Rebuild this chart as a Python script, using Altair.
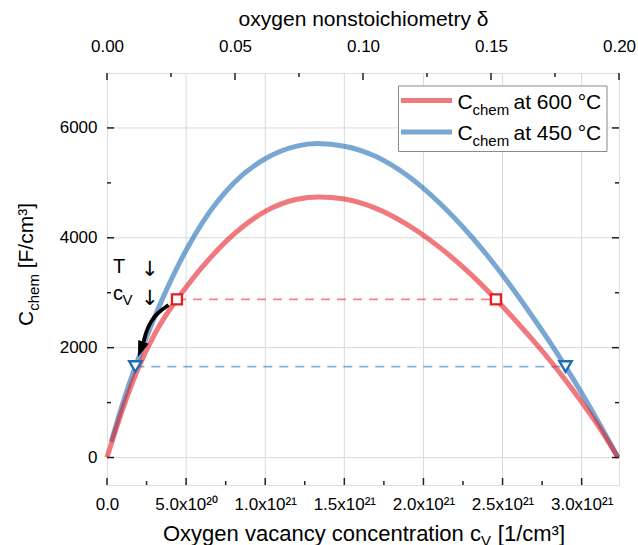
import altair as alt
import pandas as pd

# ---------------- data ----------------
cv_600 = [0, 1e20, 2e20, 3e20, 4.42e20, 5e20, 6e20, 8e20, 10e20, 12e20, 13.4e20, 15e20, 17e20,
          19e20, 21e20, 23e20, 24.58e20, 26e20, 27e20, 28e20, 29e20, 30e20, 31e20, 32.3e20]
c_600 = [0, 890, 1645, 2240, 2880, 3101, 3461, 4061, 4481, 4701, 4745, 4705, 4535,
         4235, 3830, 3335, 2880, 2436, 2109, 1766, 1400, 1010, 600, 0]

cv_450 = [0.27e20, 1e20, 1.79e20, 3e20, 4.42e20, 5e20, 6e20, 8e20, 10e20, 12e20, 13.3e20, 15e20,
          17e20, 19e20, 21e20, 23e20, 25e20, 26.5e20, 28e20, 28.98e20, 30e20, 31e20, 32.3e20]
c_450 = [290, 990, 1655, 2550, 3452, 3774, 4264, 4994, 5439, 5669, 5715, 5668,
         5478, 5128, 4638, 4033, 3323, 2727, 2095, 1655, 1173, 676, 0]

square_cv = [4.42e20, 24.58e20]
square_c = [2880, 2880]
tri_cv = [1.79e20, 28.98e20]
tri_c = [1655, 1655]

arrow_cv = [3.89e20, 3.24e20, 2.73e20, 2.45e20, 2.31e20]
arrow_c = [2776, 2649, 2467, 2267, 2103]
arrow_head_cv = [2.15e20]
arrow_head_c = [1983]

x_major = [0, 5e20, 1e21, 1.5e21, 2e21, 2.5e21, 3e21]
x_labels = ["0.0", "5.0x10²⁰", "1.0x10²¹", "1.5x10²¹", "2.0x10²¹", "2.5x10²¹", "3.0x10²¹"]
x_minor = [2.5e20, 7.5e20, 1.25e21, 1.75e21, 2.25e21, 2.75e21]
y_major = [0, 2000, 4000, 6000]
y_minor = [1000, 3000, 5000]
d_major = [0.0, 0.05, 0.10, 0.15, 0.20]
d_minor = [0.025, 0.075, 0.125, 0.175]

legend_labels = ["at 600 °C", "at 450 °C"]

# ---------------- styling ----------------
W, H = 512, 412
X_MAX = 3.236e21
FONT = "Liberation Sans"
RED = "#e41f26"
BLUE = "#1f6db5"
FRAME = "#222222"
GRID = "#dadada"

xs = alt.Scale(domain=[0, X_MAX], nice=False, zero=False)
ys = alt.Scale(domain=[-500, 7000], nice=False, zero=False)

label_expr = ("[" + ",".join("'%s'" % l for l in x_labels) + "][indexof(["
              + ",".join(repr(float(v)) for v in x_major) + "], datum.value)]")

X_AX = alt.Axis(values=x_major, labelExpr=label_expr, title=None, grid=False, ticks=False,
                tickSize=0, domain=False, labelFontSize=17, labelFont=FONT, labelColor="black",
                labelPadding=11, labelFlush=False, labelOverlap=False, labelBound=False)
Y_AX = alt.Axis(values=y_major, format="d", title=None, grid=False, ticks=False, tickSize=0,
                domain=False, labelFontSize=17, labelFont=FONT, labelColor="black",
                labelPadding=10, labelFlush=False, labelOverlap=False)
TOP_AX = alt.Axis(orient="top", values=d_major, format=".2f", title="oxygen nonstoichiometry δ",
                  titleFontSize=21, titleFont=FONT, titleFontWeight="normal", titleColor="black",
                  titlePadding=8, grid=False, ticks=False, tickSize=0, domain=False,
                  labelFontSize=17, labelFont=FONT, labelColor="black", labelPadding=18,
                  labelFlush=False, labelOverlap=False)


def X(field):
    return alt.X(field + ":Q", scale=xs, axis=X_AX)


def Y(field):
    return alt.Y(field + ":Q", scale=ys, axis=Y_AX)


one = pd.DataFrame({"k": [0]})

# grid
grid_v = alt.Chart(pd.DataFrame({"g": x_major[1:]})).mark_rule(color=GRID, strokeWidth=1).encode(x=X("g"))
grid_h = alt.Chart(pd.DataFrame({"g": y_major})).mark_rule(color=GRID, strokeWidth=1).encode(y=Y("g"))

# dashed guide lines
dash_red = alt.Chart(pd.DataFrame({"a": [square_cv[0]], "b": [square_cv[1]], "c": [square_c[0]]})).mark_rule(
    color=RED, opacity=0.55, strokeWidth=1.6, strokeDash=[9, 7]).encode(x=X("a"), x2="b", y=Y("c"))
dash_blue = alt.Chart(pd.DataFrame({"a": [tri_cv[0]], "b": [tri_cv[1]], "c": [tri_c[0]]})).mark_rule(
    color=BLUE, opacity=0.55, strokeWidth=1.6, strokeDash=[9, 7]).encode(x=X("a"), x2="b", y=Y("c"))

# curves
line_blue = alt.Chart(pd.DataFrame({"cv": cv_450, "C": c_450})).mark_line(
    color=BLUE, opacity=0.6, strokeWidth=5, interpolate="monotone").encode(x=X("cv"), y=Y("C"))
line_red = alt.Chart(pd.DataFrame({"cv": cv_600, "C": c_600})).mark_line(
    color=RED, opacity=0.6, strokeWidth=5, interpolate="monotone").encode(x=X("cv"), y=Y("C"))

# markers
squares = alt.Chart(pd.DataFrame({"cv": square_cv, "C": square_c})).mark_point(
    shape="square", size=100, fill="white", fillOpacity=1, filled=True, stroke=RED, strokeWidth=2.3, opacity=1
).encode(x=X("cv"), y=Y("C"))
triangles = alt.Chart(pd.DataFrame({"cv": tri_cv, "C": tri_c})).mark_point(
    shape="triangle-down", size=150, fill="white", fillOpacity=1, filled=True, stroke=BLUE, strokeWidth=2.4,
    opacity=1).encode(x=X("cv"), y=Y("C"))

# curved arrow
arrow = alt.Chart(pd.DataFrame({"cv": arrow_cv, "C": arrow_c, "o": list(range(len(arrow_cv)))})).mark_line(
    color="black", strokeWidth=3.8, interpolate="basis").encode(x=X("cv"), y=Y("C"), order="o:Q")
arrow_head = alt.Chart(pd.DataFrame({"cv": arrow_head_cv, "C": arrow_head_c})).mark_point(
    shape="M0,-1L0.62,0.8L-0.62,0.8Z", size=320, filled=True, color="black", opacity=1, angle=200
).encode(x=X("cv"), y=Y("C"))


# inward ticks
def hticks(vals, y0, y1):
    return alt.Chart(pd.DataFrame({"t": vals})).mark_rule(color=FRAME, strokeWidth=1.5).encode(
        x=X("t"), y=alt.value(y0), y2=alt.value(y1))


def vticks(vals, x0, x1):
    return alt.Chart(pd.DataFrame({"t": vals})).mark_rule(color=FRAME, strokeWidth=1.5).encode(
        y=Y("t"), x=alt.value(x0), x2=alt.value(x1))


tick_layers = [
    hticks(x_major, H, H - 7), hticks(x_minor, H, H - 4),
    vticks(y_major, 0, 7), vticks(y_minor, 0, 4),
    vticks(y_major, W, W - 7), vticks(y_minor, W, W - 4),
]


def txt(s, px, py, size, angle=0, align="left", color="black", font=FONT):
    return alt.Chart(one).mark_text(text=s, font=font, fontSize=size, color=color, align=align,
                                    baseline="alphabetic", angle=angle).encode(
        x=alt.value(px), y=alt.value(py))


# legend
legend_box = alt.Chart(one).mark_rect(fill="white", stroke="#8a8a8a", strokeWidth=1).encode(
    x=alt.value(291.5), x2=alt.value(500), y=alt.value(13), y2=alt.value(78.5))
leg_lines = [
    alt.Chart(one).mark_rule(color=RED, opacity=0.6, strokeWidth=5).encode(
        x=alt.value(294), x2=alt.value(345), y=alt.value(27.5)),
    alt.Chart(one).mark_rule(color=BLUE, opacity=0.6, strokeWidth=5).encode(
        x=alt.value(294), x2=alt.value(345), y=alt.value(59)),
]
leg_text = [
    txt("C", 350.5, 36.3, 21), txt("chem", 365.5, 41.6, 15), txt(legend_labels[0], 406.5, 36.3, 21),
    txt("C", 350.5, 67.3, 21), txt("chem", 365.5, 72.6, 15), txt(legend_labels[1], 406.5, 67.3, 21),
]

# axis titles with subscripts
y_title = [
    txt("C", -74, 253, 21, angle=270),
    txt("chem", -68.5, 237.8, 15, angle=270),
    txt("[F/cm³]", -74, 195.3, 21, angle=270),
]
x_title = [
    txt("Oxygen vacancy concentration c", 56, 467.5, 22),
    txt("V", 374, 472.5, 15),
    txt("[1/cm³]", 390.8, 467.5, 22),
]

# T / c_V annotation
annot = [
    txt("T", 6, 200.3, 20), txt("↓", 34, 203, 21, font="DejaVu Sans"),
    txt("c", 6, 227.3, 20), txt("V", 15.5, 232.3, 15), txt("↓", 34, 232, 21, font="DejaVu Sans"),
]

main = alt.layer(
    grid_v, grid_h, dash_red, dash_blue, line_blue, line_red, squares, triangles,
    arrow, arrow_head, *tick_layers, legend_box, *leg_lines, *leg_text, *y_title, *x_title, *annot
)

ds = alt.Scale(domain=[0, 0.2], nice=False, zero=False)
top_major = alt.Chart(pd.DataFrame({"d": d_major})).mark_rule(color=FRAME, strokeWidth=1.5).encode(
    x=alt.X("d:Q", scale=ds, axis=TOP_AX), y=alt.value(0), y2=alt.value(7))
top_minor = alt.Chart(pd.DataFrame({"d": d_minor})).mark_rule(color=FRAME, strokeWidth=1.5).encode(
    x=alt.X("d:Q", scale=ds, axis=TOP_AX), y=alt.value(0), y2=alt.value(4))
top = alt.layer(top_major, top_minor)

chart = alt.layer(main, top).resolve_scale(x="independent").properties(
    width=W, height=H,
    padding={"left": 107, "top": 73, "right": 19, "bottom": 60},
    autosize=alt.AutoSizeParams(type="none"),
).configure_view(stroke=FRAME, strokeWidth=1.5).configure(font=FONT, background="white")

chart.save("out.html", embed_options={"renderer": "svg", "actions": False})
